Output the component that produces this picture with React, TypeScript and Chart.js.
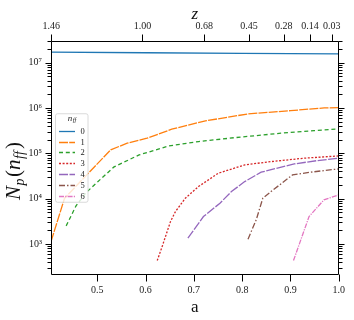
import React, { useEffect, useRef } from 'react';
import { Chart, registerables } from 'chart.js';

Chart.register(...registerables);

const SERIF = '"Liberation Serif", "DejaVu Serif", serif';

// ---- data ----
const seriesNames = ['0', '1', '2', '3', '4', '5', '6'];
const seriesColors = ['#1f77b4', '#ff7f0e', '#2ca02c', '#d62728', '#9467bd', '#8c564b', '#e377c2'];
const seriesDashes = [[], [9, 1.2], [4, 2.8], [2, 1.6], [9, 1.5], [6, 2, 1.5, 2], [5, 1.2, 1.2, 1.2]];

const a0 = [0.4043, 0.6, 0.8, 1.0];
const n0 = [1.70e7, 1.65e7, 1.6e7, 1.56e7];

const a1 = [0.4043, 0.4324, 0.5279, 0.5621, 0.6031, 0.6543, 0.724, 0.8121, 0.9002, 0.97, 1.0];
const n1 = [1125, 1.02e4, 1.19e5, 1.67e5, 2.15e5, 3.39e5, 5.18e5, 7.38e5, 8.73e5, 1.0e6, 1.02e6];

const a2 = [0.4357, 0.4561, 0.4766, 0.5006, 0.5348, 0.5867, 0.6482, 0.7096, 0.7848, 0.8803, 0.9488, 1.0];
const n2 = [2.5e3, 6.9e3, 1.34e4, 2.33e4, 5.0e4, 9.2e4, 1.45e5, 1.81e5, 2.21e5, 2.77e5, 3.16e5, 3.45e5];

const a3 = [0.6242, 0.6344, 0.6516, 0.6619, 0.6824, 0.7096, 0.7506, 0.8053, 0.8598, 0.9283, 1.0];
const n3 = [429, 873, 3.1e3, 5.16e3, 1.02e4, 1.84e4, 3.63e4, 5.54e4, 6.55e4, 7.78e4, 8.75e4];

const a4 = [0.6877, 0.7199, 0.7541, 0.7779, 0.8053, 0.8393, 0.9078, 0.9555, 1.0];
const n4 = [1.34e3, 4.01e3, 7.91e3, 1.43e4, 2.37e4, 3.82e4, 5.82e4, 6.89e4, 7.78e4];

const a5 = [0.8121, 0.8291, 0.8428, 0.8598, 0.9043, 0.9418, 0.9693, 1.0];
const n5 = [1.27e3, 3.39e3, 1.02e4, 1.43e4, 3.33e4, 3.82e4, 4.15e4, 4.52e4];

const a6 = [0.9063, 0.9385, 0.9693, 1.0];
const n6 = [429, 4.01e3, 9.35e3, 1.21e4];

const seriesA = [a0, a1, a2, a3, a4, a5, a6];
const seriesN = [n0, n1, n2, n3, n4, n5, n6];

const xMin = 0.4043;
const xMax = 1.0;
const yMin = 206;
const yMax = 3.0e7;
const xTickValues = [0.5, 0.6, 0.7, 0.8, 0.9, 1.0];
const zTickPositions = [0.405, 0.5935, 0.7213, 0.8141, 0.8859, 0.9406, 0.9857];
const zTickLabels = ['1.46', '1.00', '0.68', '0.45', '0.28', '0.14', '0.03'];

const SUP: Record<string, string> = { '0': '⁰', '1': '¹', '2': '²', '3': '³', '4': '⁴', '5': '⁵', '6': '⁶', '7': '⁷', '8': '⁸', '9': '⁹', '-': '⁻' };
const sup = (n: number) => String(n).split('').map((c) => SUP[c] || c).join('');

function buildLogTicks() {
  const out: { value: number; major: boolean }[] = [];
  for (let e = 1; e <= 8; e++) {
    for (let m = 1; m <= 9; m++) {
      const v = m * Math.pow(10, e);
      if (v >= yMin && v <= yMax) out.push({ value: v, major: m === 1 });
    }
  }
  return out;
}

const isPow10 = (v: number) => {
  const e = Math.log10(v);
  return Math.abs(e - Math.round(e)) < 1e-9;
};

const framePlugin = {
  id: 'frameTicks',
  afterDraw(chart: any) {
    const ctx = chart.ctx as CanvasRenderingContext2D;
    const { left, right, top, bottom } = chart.chartArea;
    ctx.save();
    ctx.strokeStyle = '#000';
    ctx.lineWidth = 1;
    const L = Math.round(left) + 0.5;
    const R = Math.round(right) - 0.5;
    const T = Math.round(top) + 0.5;
    const B = Math.round(bottom) - 0.5;
    ctx.beginPath();
    ctx.rect(L, T, R - L, B - T);
    ctx.stroke();
    ctx.beginPath();
    const ys = chart.scales.y;
    for (const t of ys.ticks) {
      const py = Math.round(ys.getPixelForValue(t.value)) + 0.5;
      const len = isPow10(t.value) ? 6 : 4;
      ctx.moveTo(L - len, py);
      ctx.lineTo(L, py);
      ctx.moveTo(R, py);
      ctx.lineTo(R + len, py);
    }
    const xs = chart.scales.x;
    for (const t of xs.ticks) {
      const px = Math.round(xs.getPixelForValue(t.value)) + 0.5;
      ctx.moveTo(px, B);
      ctx.lineTo(px, B + 7);
    }
    const x2 = chart.scales.x2;
    for (const t of x2.ticks) {
      const px = Math.round(x2.getPixelForValue(t.value)) + 0.5;
      ctx.moveTo(px, T);
      ctx.lineTo(px, T - 7);
    }
    ctx.stroke();

    // y-axis label N_p(n_ff)
    const parts = [
      { t: 'N', size: 21, italic: true, dy: 0, gap: 0.5 },
      { t: 'p', size: 14, italic: true, dy: 4, gap: 1.5 },
      { t: '(', size: 21, italic: false, dy: 0, gap: 0 },
      { t: 'n', size: 21, italic: true, dy: 0, gap: 0.5 },
      { t: 'ff', size: 14, italic: true, dy: 4, gap: 2 },
      { t: ')', size: 21, italic: false, dy: 0, gap: 0 },
    ];
    const fontOf = (p: any) => `${p.italic ? 'italic ' : ''}${p.size}px ${SERIF}`;
    let total = 0;
    const widths = parts.map((p) => {
      ctx.font = fontOf(p);
      const w = ctx.measureText(p.t).width + p.gap;
      total += w;
      return w;
    });
    ctx.translate(20, 171);
    ctx.rotate(-Math.PI / 2);
    ctx.fillStyle = '#111';
    ctx.textBaseline = 'alphabetic';
    ctx.textAlign = 'left';
    let x = -total / 2;
    parts.forEach((p, i) => {
      ctx.font = fontOf(p);
      ctx.fillText(p.t, x, p.dy);
      x += widths[i];
    });
    ctx.restore();
  },
};

const legendPlugin = {
  id: 'insideLegend',
  afterDatasetsDraw(chart: any) {
    const ctx = chart.ctx as CanvasRenderingContext2D;
    const { left, top, bottom } = chart.chartArea;
    const bw = 32.5;
    const bh = 88.5;
    const bx = left + 4.5;
    const by = (top + bottom) / 2 - bh / 2;
    ctx.save();
    ctx.beginPath();
    (ctx as any).roundRect(bx, by, bw, bh, 2);
    ctx.fillStyle = 'rgba(255,255,255,0.8)';
    ctx.fill();
    ctx.strokeStyle = '#d0d0d0';
    ctx.lineWidth = 0.8;
    ctx.stroke();
    // title n_ff
    ctx.fillStyle = '#222';
    ctx.textBaseline = 'alphabetic';
    ctx.font = `italic 9px ${SERIF}`;
    const nW = ctx.measureText('n').width;
    ctx.font = `italic 6.5px ${SERIF}`;
    const fW = ctx.measureText('ff').width;
    const tx = bx + bw / 2 - (nW + fW) / 2;
    ctx.font = `italic 9px ${SERIF}`;
    ctx.fillText('n', tx, by + 7);
    ctx.font = `italic 6.5px ${SERIF}`;
    ctx.fillText('ff', tx + nW + 0.5, by + 8.5);
    chart.data.datasets.forEach((ds: any, i: number) => {
      const ry = Math.round(by + 17 + i * 10.8) + 0.5;
      ctx.beginPath();
      ctx.setLineDash(ds.borderDash || []);
      ctx.strokeStyle = ds.borderColor;
      ctx.lineWidth = ds.borderWidth;
      ctx.moveTo(bx + 3.5, ry);
      ctx.lineTo(bx + 19.5, ry);
      ctx.stroke();
      ctx.setLineDash([]);
      ctx.fillStyle = '#222';
      ctx.font = `8.5px ${SERIF}`;
      ctx.textBaseline = 'middle';
      ctx.textAlign = 'left';
      ctx.fillText(ds.label, bx + 25, ry + 0.5);
    });
    ctx.restore();
  },
};

export default function App() {
  const ref = useRef<HTMLCanvasElement | null>(null);
  useEffect(() => {
    if (!ref.current) return;
    const datasets = seriesNames.map((name, i) => ({
      label: name,
      data: seriesA[i].map((a, j) => ({ x: a, y: seriesN[i][j] })),
      borderColor: seriesColors[i],
      backgroundColor: seriesColors[i],
      borderDash: seriesDashes[i],
      borderWidth: 1.3,
      pointRadius: 0,
      tension: 0,
      fill: false,
      xAxisID: 'x',
      yAxisID: 'y',
    }));
    const chart = new Chart(ref.current, {
      type: 'line',
      data: { datasets },
      plugins: [legendPlugin, framePlugin],
      options: {
        animation: false,
        responsive: false,
        maintainAspectRatio: false,
        events: [],
        layout: { padding: { left: 0, right: 12, top: 0, bottom: 0 } },
        plugins: { legend: { display: false }, tooltip: { enabled: false }, title: { display: false } },
        scales: {
          x: {
            type: 'linear',
            position: 'bottom',
            min: xMin,
            max: xMax,
            grid: { display: false, drawTicks: false },
            border: { display: false },
            afterBuildTicks: (s: any) => {
              s.ticks = xTickValues.map((v) => ({ value: v }));
            },
            afterFit: (s: any) => {
              s.height = 45;
            },
            ticks: {
              autoSkip: false,
              maxRotation: 0,
              padding: 9,
              color: '#222',
              font: { family: SERIF, size: 10 },
              callback: (v: any) => Number(v).toFixed(1),
            },
            title: {
              display: true,
              text: 'a',
              color: '#111',
              font: { family: SERIF, size: 17 },
              padding: { top: 0, bottom: 2 },
            },
          },
          x2: {
            type: 'linear',
            position: 'top',
            min: xMin,
            max: xMax,
            grid: { display: false, drawTicks: false },
            border: { display: false },
            afterBuildTicks: (s: any) => {
              s.ticks = zTickPositions.map((v) => ({ value: v }));
            },
            afterFit: (s: any) => {
              s.height = 41;
            },
            ticks: {
              autoSkip: false,
              maxRotation: 0,
              padding: 9,
              color: '#222',
              font: { family: SERIF, size: 10 },
              callback: (v: any) => {
                let best = 0;
                zTickPositions.forEach((p, k) => {
                  if (Math.abs(p - v) < Math.abs(zTickPositions[best] - v)) best = k;
                });
                return zTickLabels[best];
              },
            },
            title: {
              display: true,
              text: 'z',
              color: '#111',
              font: { family: SERIF, size: 17, style: 'italic' },
              padding: { top: 4, bottom: 0 },
            },
          },
          y: {
            type: 'logarithmic',
            position: 'left',
            min: yMin,
            max: yMax,
            grid: { display: false, drawTicks: false },
            border: { display: false },
            afterBuildTicks: (s: any) => {
              s.ticks = buildLogTicks();
            },
            afterFit: (s: any) => {
              s.width = 51;
            },
            ticks: {
              autoSkip: false,
              padding: 9,
              color: '#222',
              font: { family: SERIF, size: 10 },
              callback: (v: any) => (isPow10(Number(v)) ? '10' + sup(Math.round(Math.log10(Number(v)))) : ''),
            },
          },
        },
      } as any,
    });
    return () => chart.destroy();
  }, []);
  return (
    <div style={{ position: 'absolute', left: 0, top: 0, width: 354, height: 320, background: '#fff' }}>
      <canvas ref={ref} width={354} height={320} style={{ display: 'block', width: 354, height: 320 }} />
    </div>
  );
}
